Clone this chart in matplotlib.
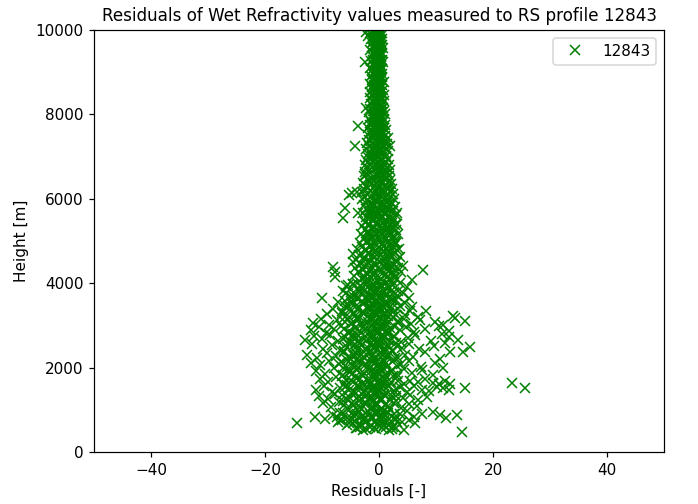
import numpy as np
import matplotlib
matplotlib.use('Agg')
import matplotlib.pyplot as plt

# ---- data (residual [-], height [m]) ----
# upper narrow column 6000-10000 m
h_top = [9980, 9950, 9920, 9890, 9850, 9820, 9790, 9750, 9710, 9680,
         9640, 9600, 9570, 9530, 9490, 9450, 9420, 9380, 9340, 9300,
         9270, 9230, 9190, 9150, 9110, 9080, 9040, 9000, 8960, 8920,
         8890, 8850, 8810, 8770, 8730, 8700, 8660, 8620, 8580, 8540,
         8510, 8470, 8430, 8390, 8350, 8320, 8280, 8240, 8200, 8160,
         8130, 8090, 8050, 8010, 7970, 7940, 7900, 7860, 7820, 7780,
         7750, 7710, 7670, 7630, 7590, 7560, 7520, 7480, 7440, 7400,
         7370, 7330, 7290, 7250, 7210, 7180, 7140, 7100, 7060, 7020,
         6990, 6950, 6910, 6870, 6830, 6800, 6760, 6720, 6680, 6640,
         6610, 6570, 6530, 6490, 6450, 6420, 6380, 6340, 6300, 6260,
         6230, 6190, 6150, 6110, 6070, 6040, 6000]
r_top_a = [-1.2, -0.8, -1.5, -0.6, -1.1, -0.9, -1.4, -0.5, -1.0, -1.3,
           -0.7, -1.2, -0.9, -1.5, -0.6, -1.1, -0.8, -1.3, -0.5, -1.0,
           -1.4, -0.7, -1.1, -0.9, -1.6, -0.6, -1.2, -0.8, -1.0, -1.4,
           -0.6, -1.1, -1.3, -0.8, -1.5, -0.9, -1.2, -0.7, -1.0, -1.6,
           -0.8, -1.3, -1.0, -1.5, -0.7, -1.2, -0.9, -1.4, -1.1, -0.6,
           -1.5, -1.0, -1.7, -0.8, -1.3, -1.1, -1.8, -0.9, -1.4, -1.2,
           -1.6, -0.9, -1.9, -1.2, -1.5, -0.8, -2.0, -1.3, -1.1, -1.7,
           -1.4, -2.1, -1.0, -1.8, -1.3, -2.2, -0.9, -1.6, -1.9, -1.2,
           -2.0, -1.4, -2.3, -1.1, -1.8, -2.4, -1.3, -2.1, -1.6, -2.5,
           -1.5, -2.2, -2.6, -1.2, -2.0, -1.7, -2.8, -1.4, -2.3, -1.9,
           -2.6, -1.6, -2.9, -2.1, -1.3, -2.4, -3.0]
r_top_b = [0.2, -0.3, 0.5, 0.0, 0.4, -0.2, 0.6, 0.1, 0.3, -0.1,
           0.5, 0.0, 0.7, -0.2, 0.3, 0.6, 0.1, 0.4, -0.1, 0.5,
           0.2, 0.7, -0.1, 0.4, 0.1, 0.6, 0.3, -0.2, 0.5, 0.2,
           0.6, 0.0, 0.4, 0.8, 0.1, 0.5, -0.1, 0.3, 0.7, 0.2,
           0.4, 0.8, 0.1, 0.6, 0.3, 0.9, 0.0, 0.5, 0.2, 0.7,
           0.3, 0.8, 0.5, 1.0, 0.1, 0.6, 0.9, 0.2, 0.7, 0.4,
           1.0, 0.3, 0.8, 1.2, 0.5, 0.9, 0.2, 1.1, 0.6, 1.3,
           0.4, 1.0, 1.4, 0.7, 1.2, 0.3, 1.5, 0.9, 0.6, 1.3,
           1.1, 1.6, 0.5, 1.3, 0.9, 1.7, 0.7, 1.4, 1.9, 1.0,
           1.5, 0.8, 1.8, 1.2, 2.0, 0.6, 1.6, 2.1, 1.1, 1.7,
           2.2, 0.9, 1.9, 2.4, 1.4, 2.0, 2.6]
r_top_c = [-0.4, 0.1, -0.2, -0.5, 0.0, -0.3, 0.2, -0.6, -0.1, 0.1,
           -0.3, -0.6, 0.2, -0.1, -0.4, 0.0, -0.5, 0.1, -0.2, -0.3,
           0.0, -0.4, 0.2, -0.6, -0.1, -0.3, 0.1, -0.5, -0.2, 0.0,
           -0.3, 0.2, -0.5, -0.1, 0.0, -0.4, 0.1, -0.6, -0.2, -0.3,
           0.1, -0.4, -0.1, 0.2, -0.5, -0.2, 0.0, -0.3, 0.3, -0.6,
           -0.2, 0.1, -0.4, -0.1, 0.2, -0.5, 0.0, -0.3, 0.1, -0.6,
           0.2, -0.3, 0.0, -0.5, -0.1, 0.3, -0.4, 0.1, -0.2, -0.6,
           0.1, -0.4, 0.3, -0.2, -0.6, 0.0, -0.3, 0.2, -0.5, -0.1,
           -0.3, 0.2, -0.6, 0.0, -0.4, 0.3, -0.1, -0.5, 0.1, -0.2,
           0.3, -0.4, 0.0, -0.7, 0.2, -0.2, 0.4, -0.5, 0.1, -0.3,
           0.0, -0.6, 0.3, -0.3, 0.5, -0.1, -0.5]

# middle column 4000-6000 m
h_mid = [5960, 5910, 5860, 5810, 5760, 5710, 5660, 5610, 5560, 5510,
         5460, 5410, 5360, 5310, 5260, 5210, 5160, 5110, 5060, 5010,
         4960, 4910, 4860, 4810, 4760, 4710, 4660, 4610, 4560, 4510,
         4460, 4410, 4360, 4310, 4260, 4210, 4160, 4110, 4060, 4010]
r_mid_a = [-2.1, -1.4, -2.6, -1.8, -2.3, -1.2, -2.8, -1.6, -2.2, -1.0,
           -2.5, -1.7, -3.0, -1.3, -2.4, -1.9, -3.2, -1.5, -2.7, -2.0,
           -3.4, -1.6, -2.9, -3.8, -2.2, -1.8, -3.5, -2.6, -4.0, -1.9,
           -3.1, -2.4, -4.2, -2.8, -3.6, -2.0, -4.4, -3.0, -2.5, -3.9]
r_mid_b = [-0.4, 0.3, -0.8, 0.6, 0.0, -0.5, 0.9, -0.2, 0.4, -0.7,
           0.7, -0.1, 0.2, -0.9, 0.5, 0.1, -0.6, 0.8, -0.3, 0.4,
           -0.8, 0.6, 0.0, -0.4, 0.9, -0.2, 0.3, -0.7, 0.5, 0.1,
           -0.5, 0.8, -0.1, 0.2, -0.9, 0.6, -0.3, 0.4, 0.0, -0.6]
r_mid_c = [1.5, 2.3, 1.1, 2.8, 1.8, 2.5, 1.3, 3.0, 2.0, 2.7,
           1.6, 3.2, 2.2, 1.4, 2.9, 1.9, 3.3, 2.4, 1.2, 2.6,
           3.0, 1.7, 2.4, 3.5, 1.5, 2.8, 2.1, 3.7, 1.8, 3.1,
           2.5, 1.4, 3.4, 2.0, 3.8, 2.7, 1.6, 3.2, 2.3, 3.6]
h_mid2 = [5985, 5935, 5885, 5835, 5785, 5735, 5685, 5635, 5585, 5535,
          5485, 5435, 5385, 5335, 5285, 5235, 5185, 5135, 5085, 5035,
          4985, 4935, 4885, 4835, 4785, 4735, 4685, 4635, 4585, 4535,
          4485, 4435, 4385, 4335, 4285, 4235, 4185, 4135, 4085, 4035]
r_mid_d = [-1.2, -0.6, -1.6, -0.9, -1.4, -0.4, -1.8, -1.0, -0.7, -1.5,
           -1.1, -0.5, -1.9, -0.8, -1.3, -2.0, -0.6, -1.7, -1.0, -1.4,
           -2.2, -0.7, -1.5, -1.1, -2.4, -0.9, -1.8, -1.3, -2.6, -1.6,
           -0.8, -2.1, -1.2, -2.8, -1.5, -2.3, -1.0, -2.5, -1.7, -2.0]
r_mid_e = [0.9, 1.4, 0.5, 1.9, 1.1, 0.7, 2.1, 1.3, 0.6, 1.7,
           1.0, 2.2, 0.8, 1.5, 2.4, 1.2, 0.6, 1.9, 2.6, 1.0,
           1.6, 2.8, 0.9, 1.4, 2.2, 0.7, 2.5, 1.8, 1.1, 2.9,
           1.3, 2.0, 0.8, 2.7, 1.5, 2.3, 1.0, 2.6, 1.9, 1.2]

# dense core of the lower blob 500-4000 m
h_core = [3960, 3900, 3840, 3780, 3720, 3660, 3600, 3540, 3480, 3420,
          3360, 3300, 3240, 3180, 3120, 3060, 3000, 2940, 2880, 2820,
          2760, 2700, 2640, 2580, 2520, 2460, 2400, 2340, 2280, 2220,
          2160, 2100, 2040, 1980, 1920, 1860, 1800, 1740, 1680, 1620,
          1560, 1500, 1440, 1380, 1320, 1260, 1200, 1140, 1080, 1020,
          960, 900, 840, 780, 720, 660, 600, 540]
r_core_a = [-2.4, -1.1, -3.3, -0.7, -2.0, -3.8, -1.5, -2.9, -0.9, -3.5,
            -1.8, -2.6, -0.6, -3.9, -1.3, -2.2, -3.1, -0.8, -2.7, -1.6,
            -3.6, -1.0, -2.3, -3.4, -0.7, -1.9, -2.8, -4.0, -1.2, -2.5,
            -3.2, -0.9, -2.0, -3.7, -1.4, -2.6, -0.8, -3.3, -1.7, -2.9,
            -3.8, -1.1, -2.2, -3.0, -0.6, -1.8, -3.5, -2.4, -1.0, -3.1,
            -2.0, -3.9, -1.3, -2.7, -0.9, -3.4, -1.6, -2.3]
r_core_b = [0.4, 1.8, -0.2, 2.6, 1.0, 0.0, 3.0, 1.4, 0.6, 2.2,
            -0.4, 1.7, 2.9, 0.2, 1.2, 3.3, 0.8, 2.0, -0.1, 1.5,
            2.7, 0.5, 1.9, 0.0, 3.1, 1.1, 2.4, 0.3, 1.6, 2.8,
            -0.3, 1.3, 3.2, 0.7, 2.1, 0.1, 2.5, 1.0, 3.4, 0.4,
            1.8, 2.9, -0.2, 1.4, 2.3, 0.6, 3.0, 1.2, -0.5, 2.0,
            0.9, 2.6, 0.2, 1.7, 3.1, 0.5, 1.3, 2.2]
h_core2 = [3990, 3930, 3870, 3810, 3750, 3690, 3630, 3570, 3510, 3450,
           3390, 3330, 3270, 3210, 3150, 3090, 3030, 2970, 2910, 2850,
           2790, 2730, 2670, 2610, 2550, 2490, 2430, 2370, 2310, 2250,
           2190, 2130, 2070, 2010, 1950, 1890, 1830, 1770, 1710, 1650,
           1590, 1530, 1470, 1410, 1350, 1290, 1230, 1170, 1110, 1050,
           990, 930, 870, 810, 750, 690, 630, 570]
r_core_c = [-0.9, 0.3, -1.4, 0.8, -0.2, -1.1, 0.5, -0.6, 1.0, -1.5,
            0.1, -0.8, 0.7, -1.2, -0.3, 0.9, -1.0, 0.2, -0.5, 1.1,
            -1.3, 0.4, -0.7, 0.6, -1.5, 0.0, -0.4, 1.0, -1.1, 0.3,
            -0.9, 0.8, -0.1, -1.4, 0.5, -0.6, 1.1, -1.2, 0.2, -0.3,
            0.7, -1.0, 0.0, -0.8, 0.9, -1.3, 0.4, -0.5, 1.0, -1.1,
            0.1, -0.7, 0.6, -1.4, 0.3, -0.2, 0.8, -0.9]
r_core_d = [-4.6, -5.8, -3.9, -6.3, -4.2, -5.1, -3.6, -6.0, -4.8, -5.5,
            -3.8, -6.5, -4.4, -5.2, -3.7, -5.9, -4.9, -4.1, -6.2, -5.3,
            -3.9, -4.7, -6.4, -5.0, -4.3, -5.7, -3.6, -6.1, -4.5, -5.4,
            -4.0, -6.6, -4.8, -5.6, -3.8, -5.1, -6.3, -4.2, -5.8, -4.6,
            -3.7, -6.0, -5.2, -4.4, -6.5, -3.9, -5.5, -4.7, -6.1, -4.1,
            -5.3, -6.4, -4.0, -5.0, -6.8, -4.5, -5.7, -3.8]

# scattered points and outliers (residual, height)
outliers = [(-2.3, 9950), (-2.0, 9850), (-2.5, 9230), (-2.2, 8150),
            (1.6, 7440), (1.9, 7250), (-3.7, 7730), (-4.3, 7250),
            (-4.8, 6130), (-3.9, 6170), (-5.3, 6090), (-6.0, 5775),
            (-6.3, 5540), (-3.7, 5660), (3.1, 5660), (2.8, 5380),
            (2.8, 4980), (3.1, 4790), (-4.6, 4700), (-4.5, 4500),
            (-8.0, 4390), (-7.8, 4270), (-7.7, 4150), (7.8, 4310),
            (5.7, 4080), (4.2, 4400)]

low_points = [
    (-5.4, 3960), (4.9, 3920), (-4.5, 3980), (-3.2, 3940), (-2.0, 3900),
    (-1.1, 3970), (-0.3, 3850), (0.6, 3930), (1.5, 3880), (2.4, 3960),
    (3.3, 3820), (-2.7, 3810), (0.1, 3990), (1.9, 3800), (-1.6, 3860),
    (-10.0, 3640), (-5.8, 3760), (-4.6, 3700), (-3.4, 3780), (-2.5, 3650),
    (-1.5, 3720), (-0.6, 3790), (0.3, 3680), (1.2, 3750), (2.2, 3610),
    (3.1, 3700), (4.2, 3770), (5.2, 3640), (-2.0, 3610), (0.8, 3620),
    (-7.2, 3550), (-6.0, 3450), (-4.9, 3580), (-3.8, 3480), (-2.7, 3520),
    (-1.8, 3430), (-0.9, 3570), (0.0, 3460), (0.9, 3540), (1.8, 3410),
    (2.7, 3590), (3.6, 3470), (4.6, 3530), (5.8, 3440), (-1.2, 3490),
    (1.4, 3500),
    (8.2, 3350), (13.0, 3220), (-9.2, 3260), (-8.0, 3380), (-6.5, 3300),
    (-5.2, 3360), (-4.1, 3240), (-3.0, 3320), (-2.1, 3210), (-1.2, 3390),
    (-0.3, 3270), (0.6, 3350), (1.5, 3230), (2.5, 3310), (3.4, 3380),
    (4.5, 3250), (5.5, 3330), (6.8, 3210), (-0.8, 3300), (1.0, 3280),
    (15.1, 3110), (13.3, 3180), (11.3, 3010), (9.8, 3080), (-11.5, 3060),
    (-10.2, 3150), (-8.8, 3020), (-7.3, 3120), (-6.0, 3190), (-4.8, 3050),
    (-3.6, 3130), (-2.5, 3000), (-1.5, 3170), (-0.5, 3080), (0.5, 3140),
    (1.4, 3030), (2.4, 3190), (3.4, 3100), (4.4, 3160), (5.6, 3040),
    (7.2, 3130), (-1.9, 3090), (0.9, 3020),
    (-12.0, 2890), (-10.6, 2960), (-9.3, 2830), (-7.9, 2920), (-6.6, 2980),
    (-5.4, 2850), (-4.2, 2940), (-3.1, 2810), (-2.1, 2900), (-1.1, 2970),
    (-0.2, 2850), (0.8, 2930), (1.7, 2820), (2.7, 2990), (3.7, 2880),
    (4.8, 2950), (6.2, 2840), (8.0, 2910), (10.6, 2980), (12.2, 2870),
    (11.0, 2800), (-0.6, 2920),
    (-13.0, 2650), (-11.4, 2740), (-10.0, 2680), (-8.6, 2770), (-7.2, 2620),
    (-5.9, 2720), (-4.6, 2790), (-3.5, 2640), (-2.4, 2750), (-1.4, 2690),
    (-0.4, 2610), (0.6, 2780), (1.6, 2660), (2.6, 2730), (3.8, 2600),
    (5.0, 2700), (6.4, 2780), (12.2, 2730), (13.9, 2650), (9.2, 2620),
    (16.0, 2480), (-11.8, 2560), (-9.9, 2450), (-8.3, 2530), (-6.8, 2420),
    (-5.5, 2580), (-4.3, 2470), (-3.2, 2540), (-2.2, 2410), (-1.2, 2500),
    (-0.2, 2570), (0.8, 2440), (1.8, 2520), (2.9, 2590), (4.0, 2460),
    (5.3, 2550), (7.0, 2430), (9.6, 2510), (11.5, 2580), (-0.7, 2470),
    (14.8, 2380), (12.5, 2360), (-12.6, 2300), (-10.8, 2230), (-9.2, 2350),
    (-7.6, 2270), (-6.2, 2390), (-5.0, 2210), (-3.9, 2320), (-2.8, 2260),
    (-1.8, 2380), (-0.8, 2220), (0.2, 2340), (1.2, 2280), (2.2, 2390),
    (3.3, 2230), (4.5, 2310), (6.0, 2250), (8.1, 2370), (10.7, 2200),
    (-12.0, 2110), (-10.3, 2050), (-8.7, 2160), (-7.1, 2080), (-5.7, 2190),
    (-4.5, 2030), (-3.4, 2130), (-2.4, 2060), (-1.4, 2170), (-0.4, 2010),
    (0.6, 2120), (1.6, 2040), (2.7, 2180), (3.9, 2090), (5.3, 2150),
    (7.3, 2020), (9.8, 2100), (-6.3, 2000),
    (-11.0, 1920), (-9.4, 1850), (-7.9, 1980), (-6.5, 1810), (-5.2, 1900),
    (-4.0, 1960), (-2.9, 1830), (-1.9, 1940), (-0.9, 1870), (0.1, 1990),
    (1.1, 1820), (2.1, 1910), (3.2, 1850), (4.4, 1970), (5.8, 1880),
    (7.6, 1940), (9.5, 1830), (11.3, 1990),
    (23.3, 1640), (-10.4, 1720), (-8.9, 1650), (-7.5, 1780), (-6.2, 1620),
    (-5.0, 1700), (-3.9, 1760), (-2.9, 1610), (-1.9, 1690), (-0.9, 1740),
    (0.1, 1630), (1.1, 1710), (2.1, 1660), (3.2, 1780), (4.3, 1620),
    (5.5, 1690), (6.8, 1650), (8.1, 1720), (9.4, 1640), (10.5, 1610),
    (11.5, 1680), (12.4, 1600), (-1.4, 1660), (0.6, 1680),
    (25.6, 1520), (15.1, 1520), (11.2, 1520), (10.1, 1550), (-11.0, 1470),
    (-9.6, 1560), (-8.2, 1420), (-6.9, 1510), (-5.7, 1590), (-4.6, 1440),
    (-3.5, 1540), (-2.5, 1470), (-1.5, 1580), (-0.5, 1410), (0.5, 1500),
    (1.5, 1560), (2.6, 1450), (3.7, 1530), (4.9, 1420), (6.2, 1570),
    (7.5, 1480), (8.8, 1440), (12.3, 1460), (-2.0, 1520),
    (-10.5, 1330), (-9.0, 1250), (-7.7, 1370), (-6.4, 1220), (-5.2, 1310),
    (-4.1, 1390), (-3.1, 1260), (-2.1, 1350), (-1.1, 1210), (-0.1, 1300),
    (0.9, 1380), (1.9, 1240), (3.0, 1330), (4.2, 1270), (5.5, 1360),
    (6.9, 1230), (8.4, 1310),
    (-9.8, 1150), (-8.4, 1060), (-7.0, 1180), (-5.7, 1020), (-4.5, 1120),
    (-3.4, 1070), (-2.4, 1190), (-1.4, 1040), (-0.4, 1140), (0.6, 1010),
    (1.6, 1100), (2.7, 1170), (3.9, 1050), (5.2, 1130), (6.7, 1080),
    (-11.2, 830), (-9.5, 780), (-8.0, 870), (-6.8, 920), (-5.6, 810),
    (-4.5, 880), (-3.5, 950), (-2.5, 830), (-1.5, 900), (-0.5, 970),
    (0.5, 850), (1.5, 920), (2.6, 810), (3.7, 890), (4.9, 960),
    (6.2, 840), (7.6, 910), (9.5, 955), (10.7, 880), (11.8, 800),
    (13.6, 880), (-7.4, 820), (-3.0, 860), (1.0, 880),
    (-14.4, 680), (-6.5, 760), (-5.3, 690), (-4.2, 740), (-3.2, 650),
    (-2.2, 720), (-1.2, 780), (-0.2, 670), (0.8, 730), (1.8, 640),
    (2.9, 770), (4.0, 700), (5.2, 750), (-7.2, 720), (6.4, 690),
    (14.5, 480), (-4.0, 570), (-2.8, 520), (-1.6, 590), (-0.5, 540),
    (0.6, 580), (1.8, 510), (3.0, 560), (4.3, 530), (-3.4, 600), (2.4, 600),
]

profile = '12843'

# ---- put everything together ----
scatter_pts = outliers + low_points
res = np.concatenate([r_top_a, r_top_b, r_top_c,
                      r_mid_a, r_mid_b, r_mid_c, r_mid_d, r_mid_e,
                      r_core_a, r_core_b, r_core_c, r_core_d,
                      [p[0] for p in scatter_pts]])
hgt = np.concatenate([h_top, h_top, h_top,
                      h_mid, h_mid, h_mid, h_mid2, h_mid2,
                      h_core, h_core, h_core2, h_core2,
                      [p[1] for p in scatter_pts]])

fig = plt.figure(figsize=(698 / 110, 504 / 110), dpi=110)
ax = fig.add_subplot(111)
fig.subplots_adjust(left=0.1347, right=0.9513, bottom=0.1032, top=0.9405)

ax.plot(res, hgt, 'x', color='green', label=profile)
ax.set_xlim(-50, 50)
ax.set_ylim(0, 10000)
ax.set_title('Residuals of Wet Refractivity values measured to RS profile ' + profile,
             fontsize=11)
ax.set_xlabel('Residuals [-]')
ax.set_ylabel('Height [m]')
ax.legend(loc='upper right')

fig.savefig('out.png', dpi=110)
